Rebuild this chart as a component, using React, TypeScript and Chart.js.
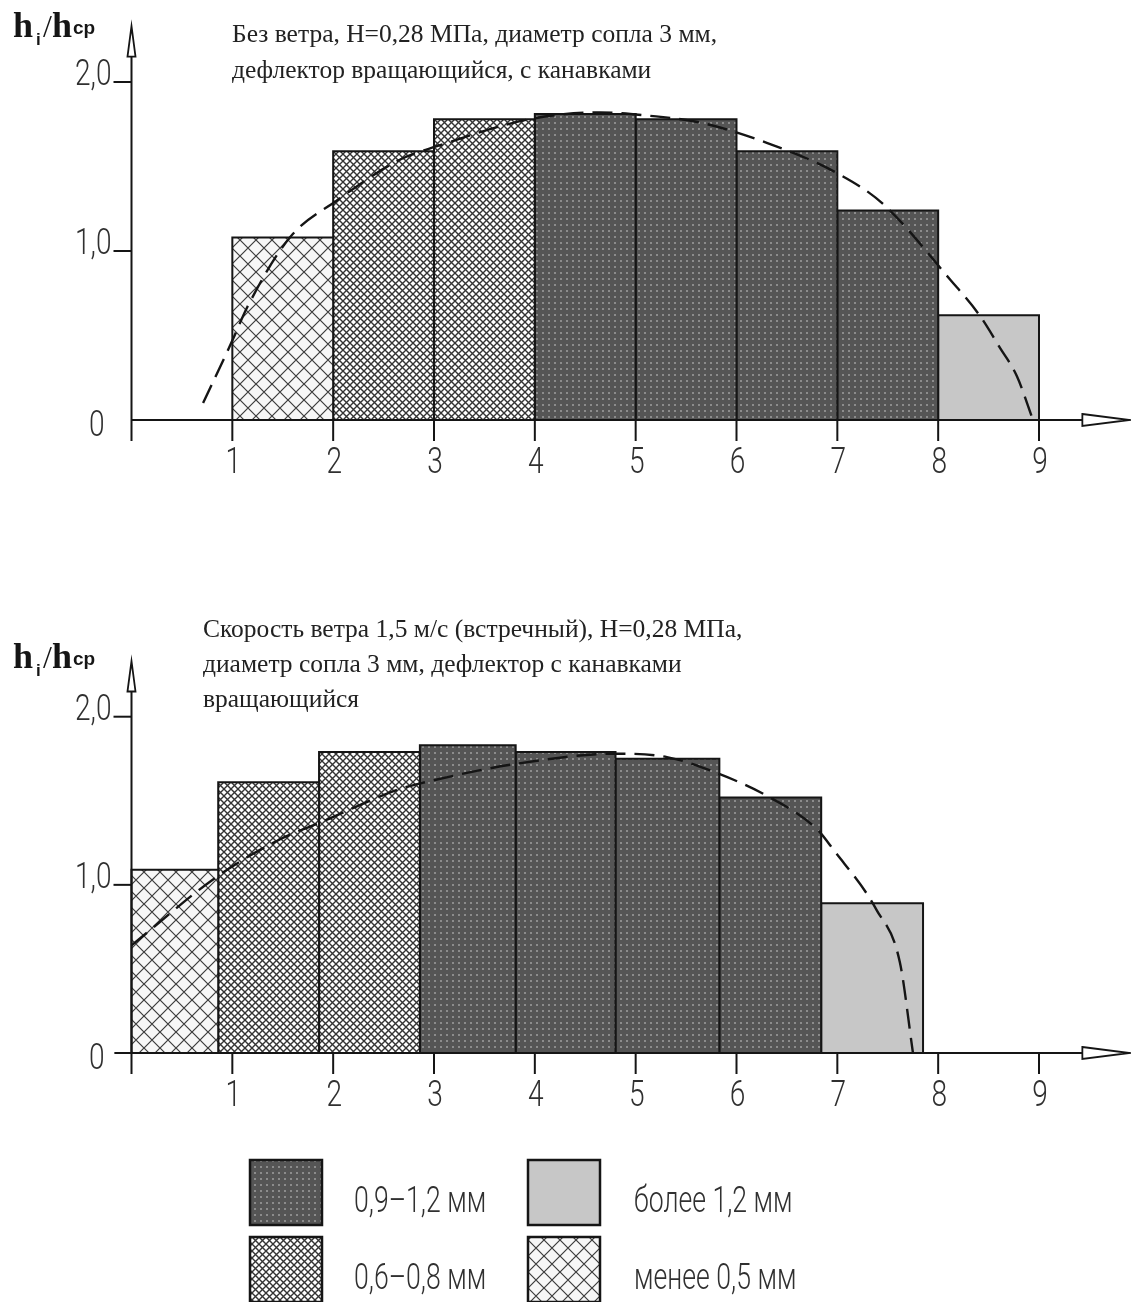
import React, { useEffect, useRef } from 'react';
import { Chart, registerables } from 'chart.js';

Chart.register(...registerables);

// ---------- data ----------
const TOP_TITLE = ['Без ветра, H=0,28 МПа, диаметр сопла 3 мм,', 'дефлектор вращающийся, с канавками'];
const BOTTOM_TITLE = [
  'Скорость ветра 1,5 м/с (встречный), H=0,28 МПа,',
  'диаметр сопла 3 мм, дефлектор с канавками',
  'вращающийся',
];

const X_TICKS = [1, 2, 3, 4, 5, 6, 7, 8, 9];
const X_TICK_LABELS = ['1', '2', '3', '4', '5', '6', '7', '8', '9'];
const Y_TICKS = [1, 2];
const Y_TICK_LABELS = ['1,0', '2,0'];
const Y_ZERO_LABEL = '0';

// classes: 0 = 0,9–1,2 мм, 1 = более 1,2 мм, 2 = 0,6–0,8 мм, 3 = менее 0,5 мм
const CLASS_LABELS = ['0,9–1,2 мм', 'более 1,2 мм', '0,6–0,8 мм', 'менее 0,5 мм'];

const TOP_EDGES = [1, 2, 3, 4, 5, 6, 7, 8, 9];
const TOP_HEIGHTS = [1.08, 1.59, 1.78, 1.81, 1.78, 1.59, 1.24, 0.62];
const TOP_CLASSES = [3, 2, 2, 0, 0, 0, 0, 1];
const TOP_CURVE_X = [0.71, 1.0, 1.15, 1.57, 2.04, 2.66, 3.03, 3.95, 4.65, 5.14, 5.64, 6.3, 7.0, 7.45, 8.12, 8.41, 8.61, 8.78, 8.94];
const TOP_CURVE_Y = [0.1, 0.47, 0.67, 1.08, 1.3, 1.54, 1.62, 1.78, 1.82, 1.8, 1.76, 1.64, 1.46, 1.28, 0.83, 0.62, 0.43, 0.26, 0];

const BOTTOM_EDGES = [0, 0.86, 1.86, 2.86, 3.81, 4.8, 5.83, 6.84, 7.85];
const BOTTOM_HEIGHTS = [1.09, 1.61, 1.79, 1.83, 1.79, 1.75, 1.52, 0.89];
const BOTTOM_CLASSES = [3, 2, 2, 0, 0, 0, 0, 1];
const BOTTOM_CURVE_X = [0, 0.85, 1.47, 1.87, 2.66, 2.91, 3.82, 4.81, 5.31, 5.74, 6.3, 6.8, 6.96, 7.39, 7.62, 7.75];
const BOTTOM_CURVE_Y = [0.64, 1.05, 1.27, 1.37, 1.57, 1.61, 1.72, 1.78, 1.76, 1.68, 1.53, 1.33, 1.21, 0.85, 0.54, 0];

// legend grid: [class, column, row]
const LEGEND_ITEMS = [
  [0, 0, 0],
  [1, 1, 0],
  [2, 0, 1],
  [3, 1, 1],
];

// ---------- styling helpers ----------
const NARROW = 'Roboto, "DejaVu Sans", sans-serif';
const SERIF = '"Liberation Serif", "Times New Roman", serif';
const INK = '#151515';
const LABEL = '#303030';

function makeTile(size: number, draw: (c: CanvasRenderingContext2D) => void) {
  const t = document.createElement('canvas');
  t.width = size;
  t.height = size;
  const c = t.getContext('2d')!;
  draw(c);
  return t;
}

function crossTile(size: number, bg: string, line: string, lw: number) {
  return makeTile(size, (c) => {
    c.fillStyle = bg;
    c.fillRect(0, 0, size, size);
    c.strokeStyle = line;
    c.lineWidth = lw;
    c.beginPath();
    c.moveTo(-1, -1);
    c.lineTo(size + 1, size + 1);
    c.moveTo(size + 1, -1);
    c.lineTo(-1, size + 1);
    c.stroke();
  });
}

function makePatterns(ctx: CanvasRenderingContext2D): (CanvasPattern | string)[] {
  const dark = makeTile(6, (c) => {
    c.fillStyle = '#555555';
    c.fillRect(0, 0, 6, 6);
    c.fillStyle = '#8c8c8c';
    c.fillRect(2, 2, 2, 2);
  });
  const fine = crossTile(7, '#ffffff', '#343434', 1.4);
  const coarse = crossTile(16, '#f7f7f7', '#3c3c3c', 1.2);
  return [
    ctx.createPattern(dark, 'repeat')!,
    '#c7c7c7',
    ctx.createPattern(fine, 'repeat')!,
    ctx.createPattern(coarse, 'repeat')!,
  ];
}

// draws real text, horizontally condensed like a drafting font
function condensedText(
  ctx: CanvasRenderingContext2D,
  text: string,
  x: number,
  y: number,
  align: CanvasTextAlign,
  sx: number
) {
  ctx.save();
  ctx.translate(x, y);
  ctx.scale(sx, 1);
  ctx.textAlign = align;
  ctx.fillText(text, 0, 0);
  ctx.restore();
}

function drawHLabel(ctx: CanvasRenderingContext2D, x: number, base: number) {
  ctx.fillStyle = INK;
  ctx.textAlign = 'left';
  ctx.textBaseline = 'alphabetic';
  ctx.font = `bold 36px ${SERIF}`;
  ctx.fillText('h', x, base);
  ctx.font = `bold 17px "Liberation Sans", sans-serif`;
  ctx.fillText('i', x + 23, base + 8);
  ctx.font = `32px ${SERIF}`;
  ctx.fillText('/', x + 30, base);
  ctx.font = `bold 36px ${SERIF}`;
  ctx.fillText('h', x + 39, base);
  ctx.font = `bold 19px "Liberation Sans", sans-serif`;
  ctx.fillText('cp', x + 60, base - 3);
}

type Layout = {
  titleLines: string[];
  titleX: number;
  titleBase: number;
  titleStep: number;
  hLabelBase: number;
  xAxisFrom: number;
  legend?: boolean;
  patterns?: (CanvasPattern | string)[];
};

function drawSwatch(ctx: CanvasRenderingContext2D, fill: CanvasPattern | string, x: number, y: number, w: number, h: number) {
  ctx.fillStyle = fill as any;
  ctx.fillRect(x, y, w, h);
  ctx.strokeStyle = INK;
  ctx.lineWidth = 2.5;
  ctx.strokeRect(x, y, w, h);
}

const axesPlugin = {
  id: 'drawAxes',
  afterDatasetsDraw(chart: any) {
    const L: Layout = chart.options.plugins.drawAxes;
    const ctx: CanvasRenderingContext2D = chart.ctx;
    const xs = chart.scales.x;
    const ys = chart.scales.y;
    const x0 = xs.getPixelForValue(0);
    const y0 = ys.getPixelForValue(0);
    ctx.save();
    ctx.strokeStyle = INK;
    ctx.lineCap = 'butt';

    // x axis
    const arrowBaseX = xs.getPixelForValue(9.43);
    const arrowTipX = xs.getPixelForValue(9.9);
    ctx.lineWidth = 2;
    ctx.beginPath();
    ctx.moveTo(xs.getPixelForValue(L.xAxisFrom), y0);
    ctx.lineTo(arrowBaseX, y0);
    ctx.stroke();
    ctx.beginPath();
    ctx.moveTo(arrowBaseX, y0 - 6);
    ctx.lineTo(arrowTipX, y0);
    ctx.lineTo(arrowBaseX, y0 + 6);
    ctx.closePath();
    ctx.fillStyle = '#fff';
    ctx.fill();
    ctx.lineWidth = 1.8;
    ctx.stroke();

    // y axis
    const arrowBaseY = ys.getPixelForValue(2.15);
    const arrowTipY = ys.getPixelForValue(2.33);
    ctx.lineWidth = 2;
    ctx.beginPath();
    ctx.moveTo(x0, y0 + 21);
    ctx.lineTo(x0, arrowBaseY);
    ctx.stroke();
    ctx.beginPath();
    ctx.moveTo(x0 - 4, arrowBaseY);
    ctx.lineTo(x0, arrowTipY);
    ctx.lineTo(x0 + 4, arrowBaseY);
    ctx.closePath();
    ctx.fillStyle = '#fff';
    ctx.fill();
    ctx.lineWidth = 1.8;
    ctx.stroke();

    // x ticks
    ctx.lineWidth = 2;
    ctx.fillStyle = LABEL;
    ctx.font = `300 36px ${NARROW}`;
    ctx.textBaseline = 'middle';
    X_TICKS.forEach((v, i) => {
      const px = xs.getPixelForValue(v);
      ctx.beginPath();
      ctx.moveTo(px, y0);
      ctx.lineTo(px, y0 + 21);
      ctx.stroke();
      condensedText(ctx, X_TICK_LABELS[i], px + 1, y0 + 44, 'center', 0.78);
    });

    // y ticks
    Y_TICKS.forEach((v, i) => {
      const py = ys.getPixelForValue(v);
      ctx.beginPath();
      ctx.moveTo(x0 - 18, py);
      ctx.lineTo(x0, py);
      ctx.stroke();
      condensedText(ctx, Y_TICK_LABELS[i], x0 - 20, py - 6, 'right', 0.78);
    });
    condensedText(ctx, Y_ZERO_LABEL, x0 - 27, y0 + 7, 'right', 0.78);

    // y label
    drawHLabel(ctx, 13, L.hLabelBase);

    // title
    ctx.fillStyle = '#222';
    ctx.font = `25.5px ${SERIF}`;
    ctx.textAlign = 'left';
    ctx.textBaseline = 'alphabetic';
    L.titleLines.forEach((t, i) => ctx.fillText(t, L.titleX, L.titleBase + i * L.titleStep));

    // legend
    if (L.legend && L.patterns) {
      const colBox = [250, 528];
      const colText = [354, 634];
      const rowTop = [560, 637];
      const rowMid = [603, 680];
      LEGEND_ITEMS.forEach(([cls, col, row]) => {
        drawSwatch(ctx, L.patterns![cls], colBox[col], rowTop[row], 72, 65);
        ctx.fillStyle = LABEL;
        ctx.font = `300 37px ${NARROW}`;
        ctx.textBaseline = 'middle';
        condensedText(ctx, CLASS_LABELS[cls], colText[col], rowMid[row], 'left', 0.72);
      });
    }
    ctx.restore();
  },
};

function buildDatasets(
  edges: number[],
  heights: number[],
  classes: number[],
  cx: number[],
  cy: number[],
  patterns: (CanvasPattern | string)[]
) {
  const ds: any[] = [
    {
      data: cx.map((x, i) => ({ x, y: cy[i] })),
      borderColor: INK,
      borderWidth: 2.4,
      borderDash: [20, 9],
      pointRadius: 0,
      fill: false,
      cubicInterpolationMode: 'monotone',
      order: 0,
      clip: false,
    },
  ];
  heights.forEach((h, i) => {
    const a = edges[i];
    const b = edges[i + 1];
    ds.push({
      data: [
        { x: a, y: 0 },
        { x: a, y: h },
        { x: b, y: h },
        { x: b, y: 0 },
      ],
      borderColor: INK,
      borderWidth: 2,
      backgroundColor: patterns[classes[i]],
      fill: 'origin',
      pointRadius: 0,
      tension: 0,
      borderJoinStyle: 'miter',
      order: 1,
      clip: false,
    });
  });
  return ds;
}

function makeChart(
  canvas: HTMLCanvasElement,
  datasets: any[],
  padding: { left: number; right: number; top: number; bottom: number },
  layout: Layout
) {
  return new Chart(canvas, {
    type: 'line',
    data: { datasets },
    options: {
      animation: false,
      responsive: false,
      devicePixelRatio: 1,
      events: [],
      layout: { padding },
      scales: {
        x: { type: 'linear', min: 0, max: 9, display: false },
        y: { type: 'linear', min: 0, max: 2, display: false },
      },
      plugins: {
        legend: { display: false },
        tooltip: { enabled: false },
        drawAxes: layout,
      } as any,
    },
    plugins: [axesPlugin],
  } as any);
}

export default function App() {
  const topRef = useRef<HTMLCanvasElement>(null);
  const botRef = useRef<HTMLCanvasElement>(null);

  useEffect(() => {
    const c1 = topRef.current!;
    const c2 = botRef.current!;
    const p1 = makePatterns(c1.getContext('2d')!);
    const p2 = makePatterns(c2.getContext('2d')!);

    const chart1 = makeChart(
      c1,
      buildDatasets(TOP_EDGES, TOP_HEIGHTS, TOP_CLASSES, TOP_CURVE_X, TOP_CURVE_Y, p1),
      { left: 131.5, right: 92, top: 82, bottom: 180 },
      { titleLines: TOP_TITLE, titleX: 232, titleBase: 42, titleStep: 36, hLabelBase: 37, xAxisFrom: 0 }
    );
    const chart2 = makeChart(
      c2,
      buildDatasets(BOTTOM_EDGES, BOTTOM_HEIGHTS, BOTTOM_CLASSES, BOTTOM_CURVE_X, BOTTOM_CURVE_Y, p2),
      { left: 131.5, right: 92, top: 116.7, bottom: 249 },
      {
        titleLines: BOTTOM_TITLE,
        titleX: 203,
        titleBase: 36.7,
        titleStep: 35,
        hLabelBase: 68,
        xAxisFrom: -0.17,
        legend: true,
        patterns: p2,
      }
    );
    return () => {
      chart1.destroy();
      chart2.destroy();
    };
  }, []);

  return (
    <div style={{ position: 'absolute', left: 0, top: 0, width: 1131, height: 1302, background: '#fff' }}>
      <canvas ref={topRef} width={1131} height={600} style={{ position: 'absolute', left: 0, top: 0, width: 1131, height: 600 }} />
      <canvas ref={botRef} width={1131} height={702} style={{ position: 'absolute', left: 0, top: 600, width: 1131, height: 702 }} />
    </div>
  );
}
